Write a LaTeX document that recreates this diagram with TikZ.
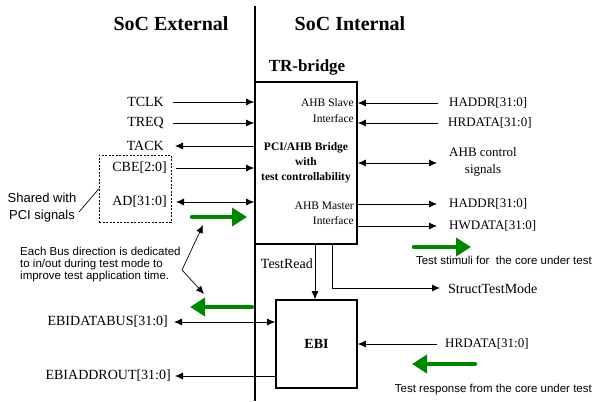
\documentclass[tikz,border=0pt]{standalone}
\usepackage{fontspec}
\setmainfont{Liberation Serif}
\setsansfont{Liberation Sans}
\usetikzlibrary{arrows.meta}
\definecolor{ggreen}{RGB}{0,135,0}
\tikzset{
  arr/.style={line width=0.8pt,-{Latex[length=8pt,width=7pt]}},
  darr/.style={line width=0.8pt,{Latex[length=8pt,width=7pt]}-{Latex[length=8pt,width=7pt]}},
  garr/.style={ggreen,line width=4.5pt,line cap=round,-{Triangle[length=15pt,width=18pt]}},
  lbl/.style={inner sep=0pt,font=\fontsize{14}{16}\selectfont},
  rlbl/.style={inner sep=0pt,font=\fontsize{13}{16}\selectfont},
  note/.style={inner sep=0pt,font=\sffamily\fontsize{11.5}{12}\selectfont},
  blk/.style={draw,line width=1.6pt,inner sep=0pt},
  hdr/.style={inner sep=0pt,font=\bfseries\fontsize{20}{24}\selectfont},
}
\begin{document}
\begin{tikzpicture}[x=1pt,y=-1pt]
\useasboundingbox (0,0) rectangle (593,401);
% headers and divider
\node[hdr] (hext) at (171,24) {SoC External};
\node[hdr] (hint) at (350,24) {SoC Internal};
\coordinate (dtop) at (255,6);
\coordinate (dbot) at (255,401);
\draw[line width=1.2pt] (dtop) -- (dbot);
% TR-bridge
\node[blk,minimum width=102pt,minimum height=162pt] (bridge) at (306,163) {};
\node[inner sep=0pt,font=\bfseries\fontsize{17}{20}\selectfont] (trb) at (307,67) {TR-bridge};
\node[inner sep=0pt,align=right,anchor=east,font=\fontsize{11.5}{16}\selectfont] (slave) at (354,111) {AHB Slave\\Interface};
\node[inner sep=0pt,align=center,font=\bfseries\fontsize{11.5}{15}\selectfont] (pci) at (306,163) {PCI/AHB Bridge\\with\\test controllability};
\node[inner sep=0pt,align=right,anchor=east,font=\fontsize{11.5}{15}\selectfont] (master) at (354,213.5) {AHB Master\\Interface};
% EBI
\node[blk,minimum width=81pt,minimum height=88pt] (ebi) at (316.5,344) {};
\node[inner sep=0pt,font=\bfseries\fontsize{14}{16}\selectfont] (ebit) at (316.5,344) {EBI};
% left signals
\node[lbl,anchor=east] (tclk) at (164,102) {TCLK};
\node[lbl,anchor=east] (treq) at (164,123) {TREQ};
\node[lbl,anchor=east] (tack) at (164,146) {TACK};
\node[lbl,anchor=east] (cbe) at (167,168) {CBE[2:0]};
\node[lbl,anchor=east] (ad) at (167,202) {AD[31:0]};
\coordinate (tclkL) at (173,102);
\coordinate (treqL) at (173,123);
\coordinate (tackL) at (175,146);
\coordinate (cbeL) at (176,168);
\coordinate (adL) at (176,202);
\draw[arr] (tclkL) -- (tclkL -| bridge.west);
\draw[arr] (treqL) -- (treqL -| bridge.west);
\draw[arr] (tackL -| bridge.west) -- (tackL);
\draw[arr] (cbeL) -- (cbeL -| bridge.west);
\draw[darr] (adL) -- (adL -| bridge.west);
% dashed box and shared note
\node[draw,dash pattern=on 2pt off 1.5pt,line width=0.7pt,minimum width=72pt,minimum height=67pt,inner sep=0pt] (shared) at (135,188.5) {};
\node[inner sep=0pt,align=center,font=\sffamily\fontsize{13}{16.5}\selectfont] (sharedt) at (42,207.5) {Shared with\\PCI signals};
\coordinate (shp) at (79,212);
\draw[line width=0.7pt] (shp) -- (shared.west |- 0,189);
% annotation
\node[note,anchor=north west,align=left] (ann) at (20,247) {Each Bus direction is dedicated\\to in/out during test mode to\\improve test application time.};
\coordinate (aj) at (182,270);
\coordinate (aup) at (203,225);
\coordinate (adn) at (204,294);
\draw[arr,line width=0.7pt] (aj) -- (aup);
\draw[arr,line width=0.7pt] (aj) -- (adn);
% green arrows
\coordinate (g1a) at (192,217);
\coordinate (g1b) at (247,217);
\draw[garr] (g1a) -- (g1b);
\coordinate (g2a) at (252,307);
\coordinate (g2b) at (190,307);
\draw[garr] (g2a) -- (g2b);
\coordinate (g3a) at (414,247);
\coordinate (g3b) at (471,247);
\draw[garr] (g3a) -- (g3b);
\coordinate (g4a) at (475,364);
\coordinate (g4b) at (412,364);
\draw[garr] (g4a) -- (g4b);
% EBI external signals
\node[lbl,anchor=east] (ebid) at (168,322) {EBIDATABUS[31:0]};
\node[lbl,anchor=east] (ebia) at (171,376) {EBIADDROUT[31:0]};
\coordinate (ebidL) at (174,322);
\coordinate (ebiaL) at (175,376);
\draw[darr] (ebidL) -- (ebidL -| ebi.west);
\draw[arr] (ebiaL -| ebi.west) -- (ebiaL);
% right side signals
\node[rlbl,anchor=west] (haddr1) at (449,103) {HADDR[31:0]};
\node[rlbl,anchor=west] (hrdata1) at (448,123) {HRDATA[31:0]};
\node[inner sep=0pt,align=center,font=\fontsize{13}{17}\selectfont] (ctrl) at (483,161.5) {AHB control\\signals};
\node[rlbl,anchor=west] (haddr2) at (449,204) {HADDR[31:0]};
\node[rlbl,anchor=west] (hwdata) at (449,226) {HWDATA[31:0]};
\coordinate (r1) at (438,103);
\coordinate (r2) at (438,123);
\coordinate (r3) at (437,163);
\coordinate (r4) at (437,204);
\coordinate (r5) at (437,226);
\draw[arr] (r1) -- (r1 -| bridge.east);
\draw[arr] (r2) -- (r2 -| bridge.east);
\draw[darr] (r3 -| bridge.east) -- (r3);
\draw[arr] (r4 -| bridge.east) -- (r4);
\draw[arr] (r5 -| bridge.east) -- (r5);
\node[note,anchor=east] (stim) at (592,260) {Test stimuli for\ \ the core under test};
% TestRead and StructTestMode
\node[lbl,anchor=east] (tread) at (313,264) {TestRead};
\coordinate (trx) at (315,0);
\draw[arr] (trx |- bridge.south) -- (trx |- ebi.north);
\node[lbl,anchor=west] (stm) at (448,289) {StructTestMode};
\coordinate (stx) at (332,288);
\coordinate (ste) at (440,288);
\draw[arr] (stx |- bridge.south) -- (stx) -- (ste);
% HRDATA to EBI
\node[rlbl,anchor=west] (hrdata2) at (445,344) {HRDATA[31:0]};
\coordinate (r6) at (437,344);
\draw[arr] (r6) -- (r6 -| ebi.east);
\node[note,anchor=east] (resp) at (592,390) {Test response from the core under test};
\end{tikzpicture}
\end{document}
